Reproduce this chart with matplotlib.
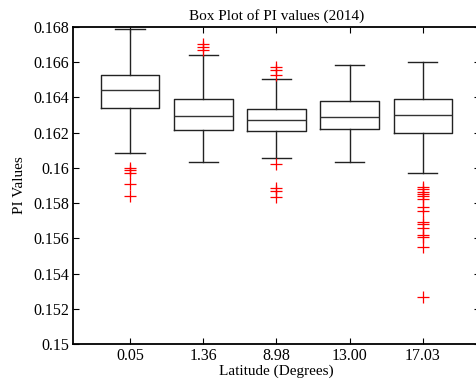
import matplotlib
matplotlib.use("Agg")
import matplotlib.pyplot as plt
from matplotlib.ticker import FuncFormatter

plt.rcParams['font.family'] = ['Liberation Serif', 'DejaVu Serif']

categories = ["0.05", "1.36", "8.98", "13.00", "17.03"]

# Box statistics
whislo = [0.16086, 0.16035, 0.16058, 0.16035, 0.15970]
q1     = [0.16341, 0.16213, 0.16211, 0.16222, 0.16196]
med    = [0.16440, 0.16294, 0.16270, 0.16288, 0.16300]
q3     = [0.16526, 0.16392, 0.16332, 0.16379, 0.16392]
whishi = [0.16785, 0.16641, 0.16502, 0.16585, 0.16600]

fliers = [
    [0.16001, 0.15985, 0.15973, 0.15907, 0.15843],
    [0.16700, 0.16687, 0.16668],
    [0.16573, 0.16555, 0.16525, 0.16022, 0.15884, 0.15869, 0.15837],
    [],
    [0.15893, 0.15879, 0.15865, 0.15852, 0.15841, 0.15824, 0.15780,
     0.15756, 0.15695, 0.15680, 0.15658, 0.15620, 0.15607, 0.15554, 0.15270],
]

yticks = [0.150, 0.152, 0.154, 0.156, 0.158, 0.160, 0.162, 0.164, 0.166, 0.168]

stats = []
for i, c in enumerate(categories):
    stats.append(dict(label=c, whislo=whislo[i], q1=q1[i], med=med[i],
                      q3=q3[i], whishi=whishi[i], fliers=fliers[i]))

fig = plt.figure(figsize=(4.77, 3.79), dpi=100)
ax = fig.add_axes([0.153, 0.0916, 0.853, 0.838])

lw = 1.0
ax.bxp(stats, positions=range(1, 6), widths=0.8, capwidths=0.4,
       boxprops=dict(color='#222222', linewidth=lw),
       medianprops=dict(color='#333333', linewidth=lw),
       whiskerprops=dict(color='#222222', linewidth=lw, linestyle='-'),
       capprops=dict(color='#222222', linewidth=lw),
       flierprops=dict(marker='+', markeredgecolor='red', markersize=8,
                       markeredgewidth=0.9, linestyle='none'))

ax.set_xlim(0.22, 5.78)
ax.set_ylim(0.150, 0.168)
ax.set_yticks(yticks)
ax.yaxis.set_major_formatter(FuncFormatter(lambda v, p: ('%.3f' % v).rstrip('0').rstrip('.') if abs(v - 0.15) > 1e-9 else '0.15'))
ax.set_xticks(range(1, 6))
ax.set_xticklabels(categories)

for s in ax.spines.values():
    s.set_linewidth(1.3)
ax.tick_params(direction='in', length=4, width=0.8, top=True, right=True,
               labelsize=11.5, pad=3)
ax.tick_params(axis='x', pad=3)

ax.set_title("Box Plot of PI values (2014)", fontsize=11, pad=5)
ax.set_xlabel("Latitude (Degrees)", fontsize=11, labelpad=0)
ax.set_ylabel("PI Values", fontsize=11, labelpad=5)

fig.savefig("out.png", dpi=100)
